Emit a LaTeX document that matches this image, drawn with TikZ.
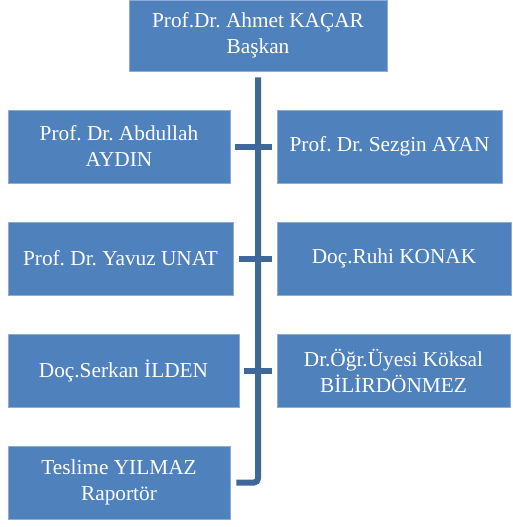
\documentclass[tikz,border=0pt]{standalone}
\usepackage{fontspec}
\setmainfont{Liberation Serif}
\usetikzlibrary{calc}
\definecolor{boxblue}{HTML}{4F81BD}
\definecolor{boxedge}{HTML}{8EAAD6}
\definecolor{connblue}{HTML}{3F6898}
\begin{document}
\frenchspacing
\begin{tikzpicture}[x=1pt,y=-1pt,
  member/.style={rectangle, fill=boxblue, draw=boxedge, line width=0.8pt,
    text=white, align=center, inner sep=0pt,
    font=\fontsize{21.3}{26}\selectfont\frenchspacing},
  conn/.style={draw=connblue, line width=6pt}]
\useasboundingbox (0,0) rectangle (513,527);
% boxes
\node[member, minimum width=258pt, minimum height=71pt] (top) at (258,35.5) {Prof.Dr. Ahmet KAÇAR\\Başkan};
\node[member, minimum width=222pt, minimum height=73pt] (L1) at (119,146.5) {Prof. Dr. Abdullah\\AYDIN};
\node[member, minimum width=225pt, minimum height=73pt] (R1) at (389.5,146.5) {Prof. Dr. Sezgin AYAN};
\node[member, minimum width=225pt, minimum height=73pt] (L2) at (120.5,258.5) {Prof. Dr. Yavuz UNAT};
\node[member, minimum width=234pt, minimum height=73pt] (R2) at (394,258.5) {Doç.Ruhi KONAK};
\node[member, minimum width=231pt, minimum height=73pt] (L3) at (123.5,370.5) {Doç.Serkan İLDEN};
\node[member, minimum width=233pt, minimum height=73pt] (R3) at (393.5,370.5) {Dr.Öğr.Üyesi Köksal\\BİLİRDÖNMEZ};
\node[member, minimum width=222pt, minimum height=73pt] (L4) at (119,482.5) {Teslime YILMAZ\\Raportör};
% trunk
\coordinate (tstart) at ([yshift=-6pt]top.south);
\draw[conn, rounded corners=4pt] (tstart) |- ([xshift=6pt]L4.east);
% row connectors
\draw[conn] ([xshift=5pt]L1.east) -- ([xshift=-5pt]R1.west);
\draw[conn] ([xshift=6pt]L2.east) -- ([xshift=-5pt]R2.west);
\draw[conn] ([xshift=5pt]L3.east) -- ([xshift=-5pt]R3.west);
\end{tikzpicture}
\end{document}
